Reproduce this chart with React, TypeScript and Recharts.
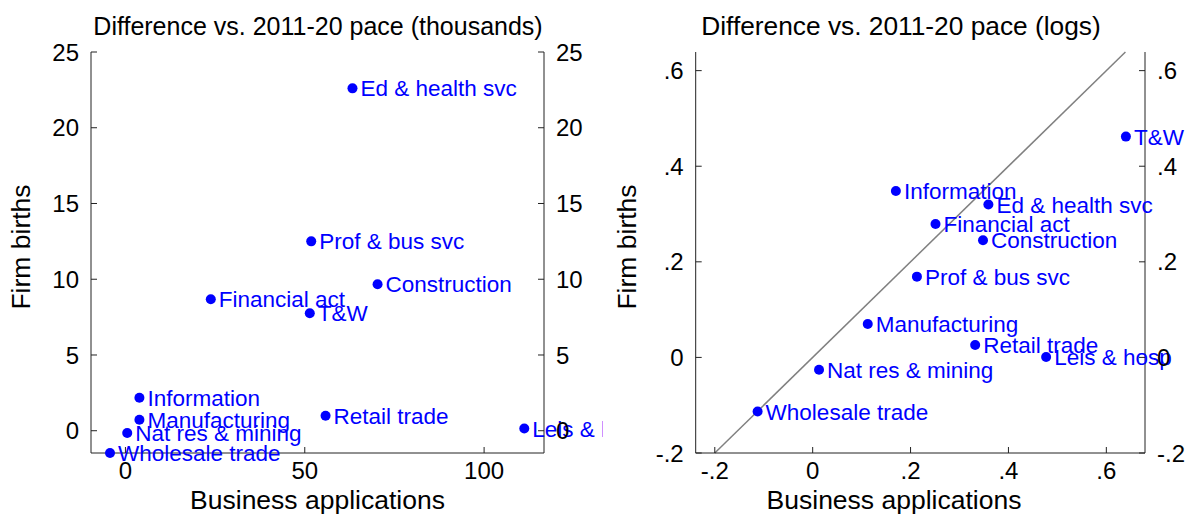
import React from "react";
import { ScatterChart, Scatter, XAxis, YAxis, ReferenceLine } from "recharts";

// sectors, in the same order in every array below
const sectors = [
  "Ed & health svc",
  "Prof & bus svc",
  "Construction",
  "Financial act",
  "T&W",
  "Information",
  "Manufacturing",
  "Retail trade",
  "Nat res & mining",
  "Wholesale trade",
  "Leis & hosp",
];

// difference vs. 2011-20 pace, thousands
const appsK = [63.3, 51.8, 70.3, 23.8, 51.4, 3.9, 3.9, 55.8, 0.5, -4.3, 111.2];
const birthsK = [22.6, 12.5, 9.67, 8.68, 7.76, 2.18, 0.73, 0.99, -0.15, -1.47, 0.15];

// difference vs. 2011-20 pace, logs
const appsLog = [0.359, 0.213, 0.348, 0.251, 0.64, 0.17, 0.1125, 0.332, 0.013, -0.1125, 0.477];
const birthsLog = [0.32, 0.169, 0.245, 0.279, 0.462, 0.348, 0.07, 0.026, -0.026, -0.113, 0.001];

const kXTicks = [0, 50, 100];
const kYTicks = [0, 5, 10, 15, 20, 25];
const logTicks = [-0.2, 0, 0.2, 0.4, 0.6];

const kData = sectors.map((name, i) => ({ name, x: appsK[i], y: birthsK[i] }));
const logData = sectors.map((name, i) => ({ name, x: appsLog[i], y: birthsLog[i] }));

const FONT = '"Liberation Sans", Arial, sans-serif';
const BLUE = "#0000ff";
const AXIS = "#222222";
const MARGIN = 12;
const TICK_FS = 24;

const fmtLog = (v: number) => (v === 0 ? "0" : v.toFixed(1).replace("0.", "."));

// ticks point inward, like the original
function Tick(props: any) {
  const { x, y, payload, side, fmt } = props;
  const label = fmt ? fmt(payload.value) : String(payload.value);
  if (side === "bottom") {
    const ay = y - 9;
    return (
      <g>
        <line x1={x} x2={x} y1={ay} y2={ay - 6} stroke={AXIS} />
        <text x={x} y={y} dy="0.72em" textAnchor="middle" fontSize={TICK_FS} fontFamily={FONT} fill="#000">
          {label}
        </text>
      </g>
    );
  }
  const ax = side === "left" ? x + MARGIN : x - MARGIN;
  const dir = side === "left" ? 1 : -1;
  return (
    <g>
      <line x1={ax} x2={ax + dir * 6} y1={y} y2={y} stroke={AXIS} />
      <text
        x={x}
        y={y}
        dy="0.36em"
        textAnchor={side === "left" ? "end" : "start"}
        fontSize={TICK_FS}
        fontFamily={FONT}
        fill="#000"
      >
        {label}
      </text>
    </g>
  );
}

function Marker(props: any) {
  const { cx, cy, payload } = props;
  return (
    <g>
      <circle cx={cx} cy={cy} r={5} fill={BLUE} />
      <text x={cx + 8} y={cy} dy="0.36em" fontSize={22.5} fontFamily={FONT} fill={BLUE}>
        {payload.name}
      </text>
    </g>
  );
}

export default function App() {
  return (
    <div style={{ position: "absolute", left: 0, top: 0, width: 1188, height: 514, background: "#fff" }}>
      <div style={{ position: "absolute", left: 0, top: 0 }}>
        <ScatterChart width={603} height={514} margin={{ top: 52, right: 0, bottom: 0, left: 0 }}>
          <XAxis
            type="number"
            dataKey="x"
            domain={[-9.6, 116.7]}
            ticks={kXTicks}
            height={61}
            tickSize={0}
            tickMargin={9}
            tickLine={false}
            axisLine={{ stroke: AXIS }}
            tick={(p: any) => <Tick {...p} side="bottom" />}
          />
          <YAxis
            yAxisId="l"
            type="number"
            dataKey="y"
            domain={[-1.47, 25]}
            ticks={kYTicks}
            width={91}
            tickSize={0}
            tickMargin={MARGIN}
            tickLine={false}
            axisLine={{ stroke: AXIS }}
            tick={(p: any) => <Tick {...p} side="left" />}
          />
          {/* mirror axis: no series on it, so its domain is pinned */}
          <YAxis
            yAxisId="r"
            orientation="right"
            type="number"
            domain={[-1.47, 25]}
            ticks={kYTicks}
            allowDataOverflow
            width={59}
            tickSize={0}
            tickMargin={MARGIN}
            tickLine={false}
            axisLine={{ stroke: AXIS }}
            tick={(p: any) => <Tick {...p} side="right" />}
          />
          <Scatter yAxisId="l" data={kData} shape={Marker} isAnimationActive={false} />
        </ScatterChart>
      </div>
      <div style={{ position: "absolute", left: 603, top: 0 }}>
        <ScatterChart width={585} height={514} margin={{ top: 52, right: 0, bottom: 0, left: 0 }}>
          <XAxis
            type="number"
            dataKey="x"
            domain={[-0.239, 0.679]}
            ticks={logTicks}
            height={61}
            tickSize={0}
            tickMargin={9}
            tickLine={false}
            axisLine={{ stroke: AXIS }}
            tick={(p: any) => <Tick {...p} side="bottom" fmt={fmtLog} />}
          />
          <YAxis
            yAxisId="l"
            type="number"
            dataKey="y"
            domain={[-0.2, 0.639]}
            ticks={logTicks}
            width={92.7}
            tickSize={0}
            tickMargin={MARGIN}
            tickLine={false}
            axisLine={{ stroke: AXIS }}
            tick={(p: any) => <Tick {...p} side="left" fmt={fmtLog} />}
          />
          <YAxis
            yAxisId="r"
            orientation="right"
            type="number"
            domain={[-0.2, 0.639]}
            ticks={logTicks}
            allowDataOverflow
            width={43}
            tickSize={0}
            tickMargin={MARGIN}
            tickLine={false}
            axisLine={{ stroke: AXIS }}
            tick={(p: any) => <Tick {...p} side="right" fmt={fmtLog} />}
          />
          <ReferenceLine
            yAxisId="l"
            segment={[
              { x: -0.2, y: -0.2 },
              { x: 0.639, y: 0.639 },
            ]}
            stroke="#808080"
            strokeWidth={1.5}
            ifOverflow="visible"
          />
          <Scatter yAxisId="l" data={logData} shape={Marker} isAnimationActive={false} />
        </ScatterChart>
      </div>
      {/* titles */}
      <svg
        width={1188}
        height={514}
        style={{ position: "absolute", left: 0, top: 0, pointerEvents: "none" }}
        fontFamily={FONT}
      >
        <text x={318} y={35} textAnchor="middle" fontSize={25} fill="#000">
          Difference vs. 2011-20 pace (thousands)
        </text>
        <text x={901} y={35} textAnchor="middle" fontSize={26.3} fill="#000">
          Difference vs. 2011-20 pace (logs)
        </text>
        <text x={317.5} y={509} textAnchor="middle" fontSize={26.5} fill="#000">
          Business applications
        </text>
        <text x={894} y={509} textAnchor="middle" fontSize={26.5} fill="#000">
          Business applications
        </text>
        <text x={30} y={247} transform="rotate(-90 30 247)" textAnchor="middle" fontSize={26.5} fill="#000">
          Firm births
        </text>
        <text x={636} y={247} transform="rotate(-90 636 247)" textAnchor="middle" fontSize={26.5} fill="#000">
          Firm births
        </text>
      </svg>
    </div>
  );
}
